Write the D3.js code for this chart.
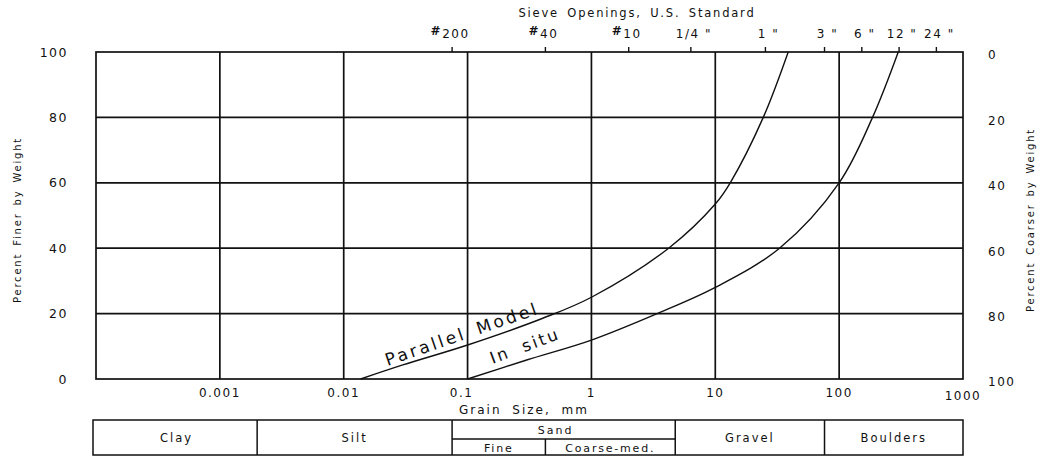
<!DOCTYPE html>
<html>
<head>
<meta charset="utf-8">
<script src="https://cdn.jsdelivr.net/npm/d3@7"></script>
<style>
  html, body { margin: 0; padding: 0; background: #fff; }
  svg { display: block; }
  text { font-family: "DejaVu Sans", "Liberation Sans", sans-serif; fill: #111; }
</style>
</head>
<body>
<svg id="chart" width="1045" height="459"></svg>
<script>
// ---- data ----
const gridSizes = [0.001, 0.01, 0.1, 1, 10, 100];
const xTickValues = [0.001, 0.01, 0.1, 1, 10, 100, 1000];
const xTickLabels = ["0.001", "0.01", "0.1", "1", "10", "100", "1000"];
const yTickValues = [0, 20, 40, 60, 80, 100];
const sieveSizes = [0.075, 0.425, 2.0, 6.35, 25.4, 76.2, 152.4, 304.8, 609.6];
const sieveNames = ["200", "40", "10", "1/4 \"", "1 \"", "3 \"", "6 \"", "12 \"", "24 \""];
const sieveHash = [true, true, true, false, false, false, false, false, false];

const parallelSize  = [0.0137, 0.03, 0.1, 0.4, 1, 4.2, 10, 13.2, 24.4, 38.8];
const parallelFiner = [0, 4.3, 10.4, 18.5, 25, 40, 53.5, 60, 80, 100];
const inSituSize    = [0.1, 0.3, 1, 3.4, 10, 33, 100, 186, 300];
const inSituFiner   = [0, 5.8, 11.9, 20, 28, 40, 60, 80, 100];

const soilBounds = [0.0001, 0.002, 0.075, 0.425, 4.75, 76.2, 1000];
const soilMain = [
  {name: "Clay", from: 0.0001, to: 0.002},
  {name: "Silt", from: 0.002, to: 0.075},
  {name: "Gravel", from: 4.75, to: 76.2},
  {name: "Boulders", from: 76.2, to: 1000}
];
const sandGroup = {name: "Sand", from: 0.075, to: 4.75};
const sandSub = [
  {name: "Fine", from: 0.075, to: 0.425},
  {name: "Coarse-med.", from: 0.425, to: 4.75}
];

// ---- layout ----
const svg = d3.select("#chart");
const x = d3.scaleLog().domain([0.0001, 1000]).range([96, 963]);
const y = d3.scaleLinear().domain([0, 100]).range([379, 52]);
const ink = "#111";

// gridlines
const g = svg.append("g");
g.selectAll(".vg").data(gridSizes).join("line")
  .attr("x1", d => x(d)).attr("x2", d => x(d))
  .attr("y1", y(0)).attr("y2", y(100))
  .attr("stroke", ink).attr("stroke-width", 1.7);
g.selectAll(".hg").data(yTickValues.filter(v => v > 0 && v < 100)).join("line")
  .attr("x1", x(0.0001)).attr("x2", x(1000))
  .attr("y1", d => y(d)).attr("y2", d => y(d))
  .attr("stroke", ink).attr("stroke-width", 1.7);
// frame
g.append("rect")
  .attr("x", x(0.0001)).attr("y", y(100))
  .attr("width", x(1000) - x(0.0001)).attr("height", y(0) - y(100))
  .attr("fill", "none").attr("stroke", ink).attr("stroke-width", 1.7);

// top sieve ticks
g.selectAll(".st").data(sieveSizes).join("line")
  .attr("x1", d => x(d)).attr("x2", d => x(d))
  .attr("y1", y(100)).attr("y2", y(100) - 5)
  .attr("stroke", ink).attr("stroke-width", 1.4);

const sl = svg.append("g").attr("font-size", 12).attr("letter-spacing", 1.5);
sieveSizes.forEach((s, i) => {
  const t = sl.append("text")
    .attr("x", x(s) + (sieveHash[i] ? -2 : 3)).attr("y", 38)
    .attr("text-anchor", "middle");
  if (sieveHash[i]) {
    t.append("tspan").attr("font-size", 12).attr("font-weight", "bold").attr("dy", -3).text("#");
    t.append("tspan").attr("dy", 3).text(sieveNames[i]);
  } else {
    t.text(sieveNames[i]);
  }
});
svg.append("text").attr("x", 637).attr("y", 17).attr("text-anchor", "middle")
  .attr("font-size", 11.5).attr("letter-spacing", 1.8).attr("word-spacing", 3)
  .text("Sieve Openings, U.S. Standard");

// bottom x labels
svg.append("g").selectAll("text").data(xTickValues).join("text")
  .attr("x", (d, i) => x(d) - (i === 2 ? 6 : 0))
  .attr("y", (d, i) => i === 6 ? 400 : 397)
  .attr("text-anchor", "middle").attr("font-size", 12).attr("letter-spacing", 1.5)
  .text((d, i) => xTickLabels[i]);
svg.append("text").attr("x", 524).attr("y", 414).attr("text-anchor", "middle")
  .attr("font-size", 12).attr("letter-spacing", 2).attr("word-spacing", 5)
  .text("Grain Size, mm");

// left y labels
svg.append("g").selectAll("text").data(yTickValues).join("text")
  .attr("x", 68).attr("y", d => y(d)).attr("dy", "0.36em")
  .attr("text-anchor", "end").attr("font-size", 12.5).attr("letter-spacing", 1.5)
  .text(d => d);
// right y labels (percent coarser)
svg.append("g").selectAll("text").data(yTickValues).join("text")
  .attr("x", 988).attr("y", d => y(d) + 3).attr("dy", "0.36em")
  .attr("text-anchor", "start").attr("font-size", 12).attr("letter-spacing", 1.5)
  .text(d => 100 - d);

svg.append("text").attr("transform", "translate(21,220) rotate(-90)")
  .attr("text-anchor", "middle").attr("font-size", 10).attr("letter-spacing", 1.8)
  .attr("word-spacing", 2).text("Percent Finer by Weight");
svg.append("text").attr("transform", "translate(1034,220) rotate(-90)")
  .attr("text-anchor", "middle").attr("font-size", 10).attr("letter-spacing", 1.8)
  .attr("word-spacing", 2).text("Percent Coarser by Weight");

// curves
const line = d3.line().x(d => x(d[0])).y(d => y(d[1])).curve(d3.curveCatmullRom.alpha(0.5));
const parallel = parallelSize.map((s, i) => [s, parallelFiner[i]]);
const inSitu = inSituSize.map((s, i) => [s, inSituFiner[i]]);
[parallel, inSitu].forEach(pts => {
  svg.append("path").attr("d", line(pts))
    .attr("fill", "none").attr("stroke", ink).attr("stroke-width", 1.4);
});
svg.append("text").attr("transform", "translate(462,334) rotate(-19)")
  .attr("text-anchor", "middle").attr("dominant-baseline", "central")
  .attr("font-size", 17).attr("letter-spacing", 2.8).attr("word-spacing", 4)
  .text("Parallel Model");
svg.append("text").attr("transform", "translate(525,346) rotate(-20.5)")
  .attr("text-anchor", "middle").attr("dominant-baseline", "central")
  .attr("font-size", 16.5).attr("letter-spacing", 2.4).attr("word-spacing", 6)
  .text("In situ");

// soil classification table
const tTop = 420, tMid = 439, tBot = 455;
const tb = svg.append("g");
tb.append("rect").attr("x", x(0.0001) - 3).attr("y", tTop)
  .attr("width", x(1000) - x(0.0001) + 3).attr("height", tBot - tTop)
  .attr("fill", "none").attr("stroke", ink).attr("stroke-width", 1.5);
tb.selectAll(".sb").data(soilBounds.slice(1, -1)).join("line")
  .attr("x1", d => x(d)).attr("x2", d => x(d))
  .attr("y1", d => d === 0.425 ? tMid : tTop).attr("y2", tBot)
  .attr("stroke", ink).attr("stroke-width", 1.5);
tb.append("line").attr("x1", x(sandGroup.from)).attr("x2", x(sandGroup.to))
  .attr("y1", tMid).attr("y2", tMid).attr("stroke", ink).attr("stroke-width", 1.5);
tb.selectAll(".sm").data(soilMain).join("text")
  .attr("x", d => (x(d.from) + x(d.to)) / 2).attr("y", (tTop + tBot) / 2).attr("dy", "0.36em")
  .attr("text-anchor", "middle").attr("font-size", 11.5).attr("letter-spacing", 2)
  .text(d => d.name);
tb.append("text").attr("x", (x(sandGroup.from) + x(sandGroup.to)) / 2 - 8)
  .attr("y", (tTop + tMid) / 2 + 1).attr("dy", "0.36em")
  .attr("text-anchor", "middle").attr("font-size", 11).attr("letter-spacing", 2)
  .text(sandGroup.name);
tb.selectAll(".ss").data(sandSub).join("text")
  .attr("x", d => (x(d.from) + x(d.to)) / 2).attr("y", (tMid + tBot) / 2 + 1).attr("dy", "0.36em")
  .attr("text-anchor", "middle").attr("font-size", 11).attr("letter-spacing", 1.8)
  .text(d => d.name);
</script>
</body>
</html>
